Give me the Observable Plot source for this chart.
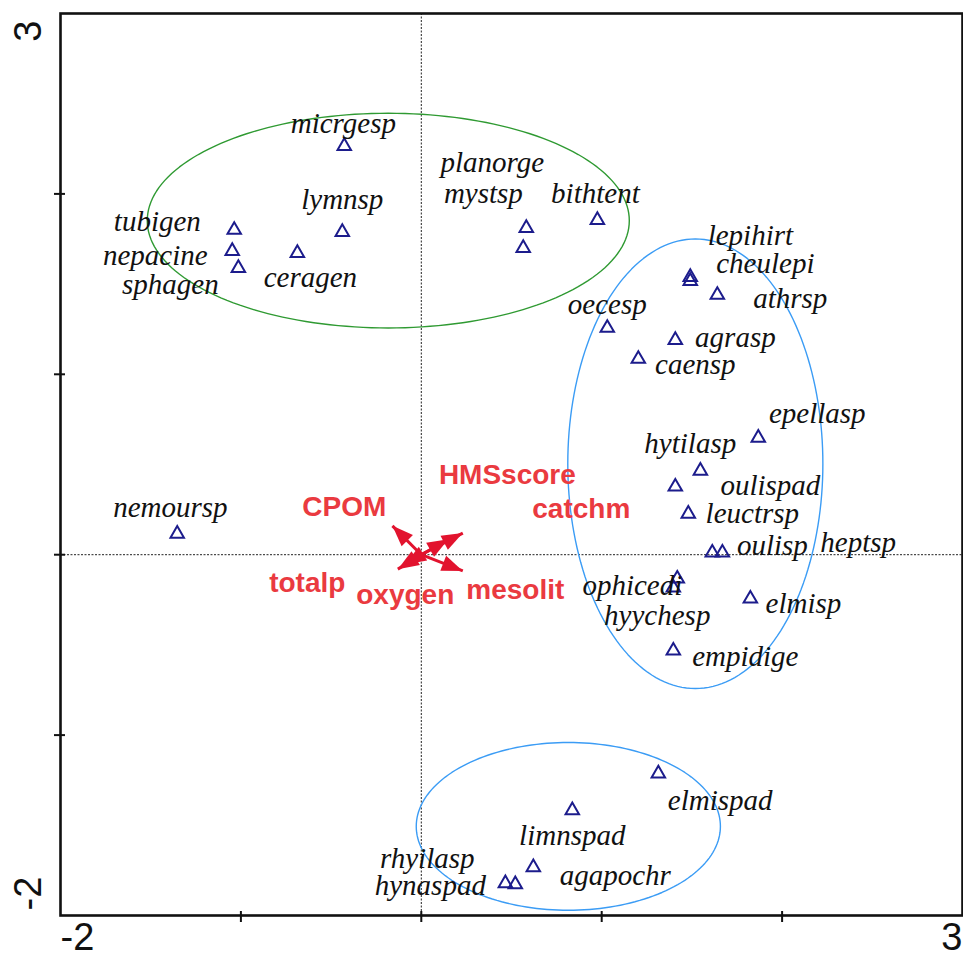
<!DOCTYPE html>
<html>
<head>
<meta charset="utf-8">
<script src="https://cdn.jsdelivr.net/npm/d3@7"></script>
<script src="https://cdn.jsdelivr.net/npm/@observablehq/plot@0.6"></script>
<style>
  html, body { margin: 0; padding: 0; background: #fff; }
  #chart svg { display: block; }
</style>
</head>
<body>
<div id="chart"></div>
<script>
// Species scores (axis 1, axis 2) and where each name is written
const speciesNames = ["micrgesp","lymnsp","tubigen","nepacine","sphagen","ceragen","planorge","mystsp","bithtent",
  "lepihirt","cheulepi","athrsp","oecesp","agrasp","caensp","epellasp","hytilasp","oulispad","leuctrsp",
  "oulisp","heptsp","ophicedi","hyychesp","elmisp","empidige","elmispad","limnspad","agapochr","rhyilasp",
  "hynaspad","nemoursp"];
const speciesX = [-0.427,-0.438,-1.037,-1.048,-1.014,-0.687,0.582,0.565,0.976,
  1.491,1.491,1.641,1.031,1.408,1.203,1.868,1.547,1.408,1.480,
  1.613,1.669,1.419,1.397,1.824,1.397,1.314,0.837,0.621,0.466,
  0.521,-1.353];
const speciesY = [2.265,1.788,1.800,1.683,1.589,1.672,1.811,1.700,1.855,
  1.539,1.517,1.440,1.257,1.190,1.085,0.648,0.465,0.377,0.227,
  0.011,0.011,-0.133,-0.183,-0.244,-0.532,-1.213,-1.417,-1.733,-1.822,
  -1.827,0.116];
const speciesLabelX = [-0.432,-0.438,-1.463,-1.475,-1.391,-0.615,0.394,0.344,0.965,
  1.824,1.907,2.045,1.031,1.741,1.519,2.195,1.491,1.935,1.835,
  1.946,2.422,1.170,1.308,2.118,1.796,1.657,0.837,1.075,0.033,
  0.050,-1.391];
const speciesLabelY = [2.387,1.966,1.844,1.656,1.495,1.534,2.171,1.999,1.999,
  1.766,1.611,1.417,1.384,1.202,1.052,0.781,0.615,0.382,0.227,
  0.050,0.066,-0.172,-0.338,-0.271,-0.565,-1.362,-1.556,-1.777,-1.683,
  -1.833,0.260];

// Environmental variable vectors and their label anchors
const envNames = ["CPOM","HMSscore","catchm","mesolit","totalp","oxygen"];
const envX = [-0.16, 0.23, 0.15, 0.23, -0.13, -0.09];
const envY = [0.16, 0.12, 0.085, -0.09, -0.08, -0.055];
const envLabelX = [-0.427, 0.477, 0.887, 0.521, -0.632, -0.089];
const envLabelY = [0.265, 0.443, 0.254, -0.194, -0.155, -0.222];

// Sample group envelopes: centre and semi-axes
const groupNames = ["pool", "riffle", "pad"];
const groupCX = [-0.183, 1.519, 0.815];
const groupCY = [1.852, 0.504, -1.506];
const groupRX = [1.336, 0.707, 0.843];
const groupRY = [0.595, 1.246, 0.465];

// Axis ticks and end labels
const axisTicks = [-1, 0, 1, 2];
const axisEndLabels = [-2, 3];

const groupColor = {pool: "#2f9a32", riffle: "#3b9cf5", pad: "#3b9cf5"};
const speciesColor = "#1c1c8c";
const arrowColor = "#e2132e";
const envTextColor = "#ea3a40";

const species = speciesNames.map((name, i) => ({
  name, x: speciesX[i], y: speciesY[i], lx: speciesLabelX[i], ly: speciesLabelY[i]
}));
const env = envNames.map((name, i) => ({
  name, x: envX[i], y: envY[i], lx: envLabelX[i], ly: envLabelY[i],
  angle: Math.atan2(envX[i], envY[i]) * 180 / Math.PI
}));
const outlines = groupNames.flatMap((g, i) =>
  d3.range(0, 360, 2).map(t => ({
    group: g,
    x: groupCX[i] + groupRX[i] * Math.cos(t * Math.PI / 180),
    y: groupCY[i] + groupRY[i] * Math.sin(t * Math.PI / 180)
  }))
);

// Filled arrowhead whose tip sits on the anchor point, pointing up
const arrowHead = {
  draw(context, size) {
    const r = Math.sqrt(size / Math.PI);
    context.moveTo(0, 0);
    context.lineTo(-0.8 * r, 2.1 * r);
    context.lineTo(0.8 * r, 2.1 * r);
    context.closePath();
  }
};

const W = 963, H = 965;
const mT = 13, mB = 50, mL = 60, mR = 1;
const innerW = W - mL - mR, innerH = H - mT - mB;

const chart = Plot.plot({
  width: W,
  height: H,
  marginTop: mT,
  marginBottom: mB,
  marginLeft: mL,
  marginRight: mR,
  style: {background: "#fff", overflow: "visible"},
  x: {domain: [-2, 3], axis: null},
  y: {domain: [-2, 3], axis: null},
  marks: [
    // dotted origin lines
    Plot.ruleX([0], {stroke: "#222", strokeWidth: 1, strokeDasharray: "2,1.5"}),
    Plot.ruleY([0], {stroke: "#222", strokeWidth: 1, strokeDasharray: "2,1.5"}),
    // group envelopes
    Plot.line(outlines, {x: "x", y: "y", z: "group", curve: "linear-closed",
      stroke: d => groupColor[d.group], strokeWidth: 1.4}),
    // environmental vectors
    Plot.link(env, {x1: () => 0, y1: () => 0, x2: "x", y2: "y", stroke: arrowColor, strokeWidth: 3}),
    Plot.dot(env, {x: "x", y: "y", rotate: "angle", symbol: arrowHead, r: 10, fill: arrowColor, stroke: "none"}),
    Plot.text(env, {x: "lx", y: "ly", text: "name", fill: envTextColor,
      fontFamily: "Liberation Sans, Arial, sans-serif", fontWeight: "bold", fontSize: 28}),
    // species
    Plot.dot(species, {x: "x", y: "y", symbol: "triangle", r: 5, fill: "none",
      stroke: speciesColor, strokeWidth: 2}),
    Plot.text(species, {x: "lx", y: "ly", text: "name", fill: "#111",
      fontFamily: "Liberation Serif, Times New Roman, serif", fontStyle: "italic", fontSize: 29}),
    // frame and crossing tick marks
    Plot.frame({stroke: "#111", strokeWidth: 2.6}),
    Plot.tickX(axisTicks, {x: d => d, insetTop: innerH - 4, insetBottom: -7, stroke: "#111", strokeWidth: 2}),
    Plot.tickY(axisTicks, {y: d => d, insetRight: innerW - 5, insetLeft: -6, stroke: "#111", strokeWidth: 2}),
    // axis end labels
    Plot.text([axisEndLabels[0]], {x: d => d, frameAnchor: "bottom", textAnchor: "start", dy: 34,
      text: d => String(d), fontSize: 38, fill: "#111", fontFamily: "Liberation Sans, Arial, sans-serif"}),
    Plot.text([axisEndLabels[1]], {x: d => d, frameAnchor: "bottom", textAnchor: "end", dy: 34,
      text: d => String(d), fontSize: 38, fill: "#111", fontFamily: "Liberation Sans, Arial, sans-serif"}),
    Plot.text([axisEndLabels[0]], {y: d => d, frameAnchor: "left", textAnchor: "start", rotate: -90, dx: -32, dy: -5,
      text: d => String(d), fontSize: 38, fill: "#111", fontFamily: "Liberation Sans, Arial, sans-serif"}),
    Plot.text([axisEndLabels[1]], {y: d => d, frameAnchor: "left", textAnchor: "end", rotate: -90, dx: -32, dy: 7,
      text: d => String(d), fontSize: 38, fill: "#111", fontFamily: "Liberation Sans, Arial, sans-serif"})
  ]
});

document.getElementById("chart").appendChild(chart);
</script>
</body>
</html>
